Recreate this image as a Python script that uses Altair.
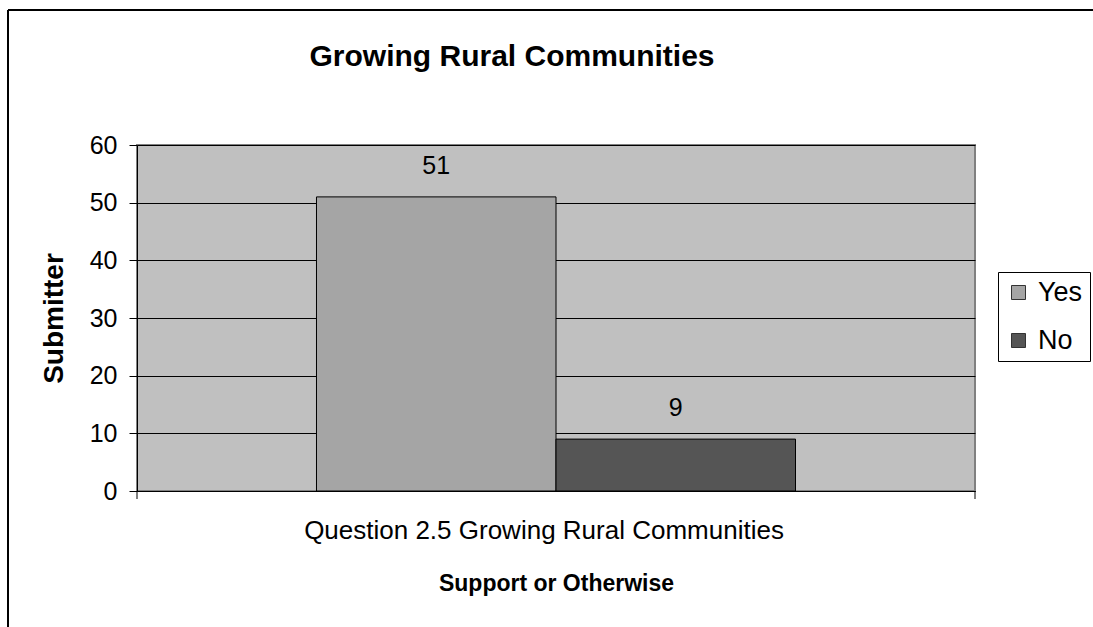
import altair as alt
import pandas as pd

categories = ["Question 2.5 Growing Rural Communities"]
series = ["Yes", "No"]
values = [51, 9]
colors = ["#A5A5A5", "#555555"]
y_ticks = [0, 10, 20, 30, 40, 50, 60]
title_text = "Growing Rural Communities"

df = pd.DataFrame({
    "cat": [categories[0]] * len(series),
    "series": series,
    "value": values,
})
cat_df = pd.DataFrame({"cat": categories})

W, H = 838, 346
FONT = "Liberation Sans"

x_scale = alt.Scale(domain=categories, paddingInner=0, paddingOuter=0.3747)

x_enc = alt.X("cat:N", title="Support or Otherwise", scale=x_scale,
              axis=alt.Axis(labels=False, ticks=False, domainColor="black",
                            titleFontSize=23, titleFont=FONT, titleFontWeight="bold",
                            titleColor="black", titlePadding=81))
xo_enc = alt.XOffset("series:N", sort=series,
                     scale=alt.Scale(paddingInner=0, paddingOuter=0))

bars = alt.Chart(df).mark_bar(stroke="black", strokeWidth=1).encode(
    x=x_enc,
    xOffset=xo_enc,
    y=alt.Y("value:Q", title="Submitter",
            scale=alt.Scale(domain=[0, 60], nice=False),
            axis=alt.Axis(values=y_ticks, tickSize=8, tickColor="black",
                          labelFontSize=25, labelFont=FONT, labelColor="black",
                          labelPadding=12, domainColor="black",
                          gridColor="black", gridWidth=1, gridOpacity=1,
                          titleFontSize=28, titleFont=FONT, titleFontWeight="bold",
                          titleColor="black", titlePadding=21)),
    color=alt.Color("series:N", sort=series,
                    scale=alt.Scale(domain=series, range=colors),
                    legend=alt.Legend(title=None, orient="none", legendX=861, legendY=127,
                                      symbolType="square", symbolSize=196,
                                      symbolStrokeColor="#333333", symbolStrokeWidth=1,
                                      labelFontSize=27, labelFont=FONT, labelColor="black",
                                      rowPadding=20, padding=7, strokeColor="black",
                                      labelOffset=6)),
)

labels = alt.Chart(df).mark_text(fontSize=25, font=FONT, color="black",
                                 baseline="alphabetic", dy=-23).encode(
    x=alt.X("cat:N", scale=x_scale),
    xOffset=alt.XOffset("series:N", sort=series),
    y=alt.Y("value:Q"),
    text=alt.Text("value:Q"),
)

cat_labels = alt.Chart(cat_df).mark_text(fontSize=26, font=FONT, color="black",
                                         baseline="middle", dx=-12, clip=False).encode(
    x=alt.X("cat:N", scale=x_scale),
    y=alt.value(H + 40),
    text="cat:N",
)

title = alt.Chart(pd.DataFrame({"t": [title_text]})).mark_text(
    fontSize=30, font=FONT, fontWeight="bold", color="black",
    baseline="alphabetic", align="center", clip=False).encode(
    x=alt.value(W / 2 - 44), y=alt.value(-79), text="t:N")

# x-axis boundary ticks at category edges
edge_ticks = alt.Chart(pd.DataFrame({"p": [0]})).mark_rule(color="black").encode(
    x=alt.value(0), y=alt.value(H), y2=alt.value(H + 8))
edge_ticks2 = alt.Chart(pd.DataFrame({"p": [0]})).mark_rule(color="black").encode(
    x=alt.value(W), y=alt.value(H), y2=alt.value(H + 8))

# outer chart frame (left and top)
frame_left = alt.Chart(pd.DataFrame({"p": [0]})).mark_rule(color="black", strokeWidth=2, clip=False).encode(
    x=alt.value(-129), y=alt.value(-135), y2=alt.value(H + 140))
frame_top = alt.Chart(pd.DataFrame({"p": [0]})).mark_rule(color="black", strokeWidth=2, clip=False).encode(
    x=alt.value(-129), x2=alt.value(W + 130), y=alt.value(-135))

chart = alt.layer(bars, labels, cat_labels, title, edge_ticks, edge_ticks2,
                  frame_left, frame_top).properties(
    width=W, height=H,
    padding={"left": 137, "top": 145, "right": 118, "bottom": 136},
    autosize=alt.AutoSizeParams(type="none"),
).configure(
    background="white"
).configure_view(
    fill="#C0C0C0", stroke="#808080", strokeWidth=2
)

chart.save("out.html", embed_options={"renderer": "svg", "actions": False})
